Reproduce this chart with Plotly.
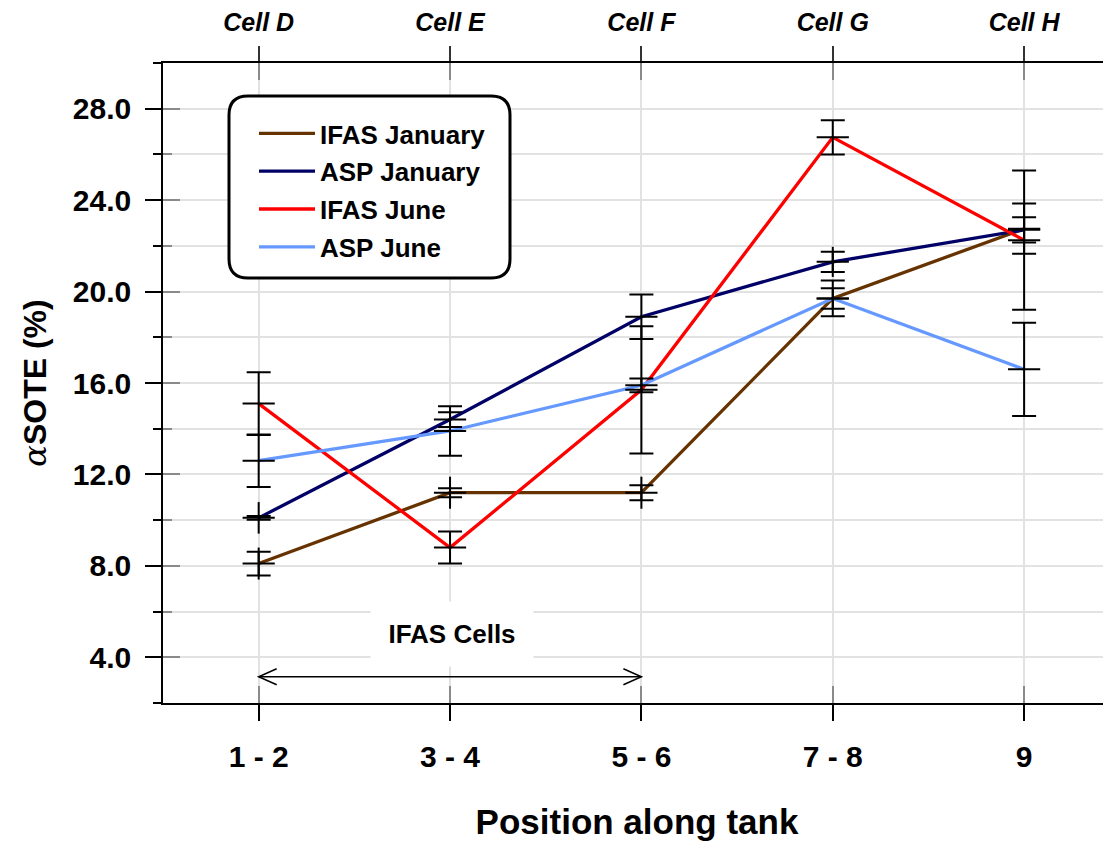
import plotly.graph_objects as go

# ---------------- data ----------------
positions = ["1 - 2", "3 - 4", "5 - 6", "7 - 8", "9"]
cells = ["Cell D", "Cell E", "Cell F", "Cell G", "Cell H"]

ifas_jan = [8.1, 11.2, 11.2, 19.7, 22.75]
ifas_jan_err = [0.52, 0.2, 0.33, 0.45, 1.1]
ifas_jan_range = [0.7, 0.7, 0.7, 0.0, 0.0]

asp_jan = [10.1, 14.4, 18.9, 21.3, 22.7]
asp_jan_err = [0.08, 0.32, 0.97, 0.44, 0.55]
asp_jan_range = [0.69, 0.0, 0.0, 0.66, 0.0]

ifas_jun = [15.1, 8.8, 15.7, 26.75, 22.25]
ifas_jun_err = [1.37, 0.7, 2.78, 0.75, 3.05]

asp_jun = [12.6, 13.9, 15.9, 19.7, 16.6]
asp_jun_err = [1.15, 1.08, 0.3, 0.78, 2.04]

series_names = ["IFAS January", "ASP January", "IFAS June", "ASP June"]
series_colors = ["#663300", "#000066", "#FF0000", "#6699FF"]

FONT = "Liberation Sans"
X_RANGE = [-0.5, 4.454]
Y_RANGE = [2, 30]

fig = go.Figure()

# lines
for name, vals, col in zip(series_names, [ifas_jan, asp_jan, ifas_jun, asp_jun], series_colors):
    fig.add_trace(go.Scatter(x=positions, y=vals, name=name, mode="lines", legendgroup=name,
                             line=dict(color=col, width=3.3), hoverinfo="skip"))

# uncapped spread bars
for vals, rng in [(ifas_jan, ifas_jan_range), (asp_jan, asp_jan_range)]:
    fig.add_trace(go.Scatter(x=positions, y=vals, mode="markers", showlegend=False,
                             marker=dict(size=1, color="rgba(0,0,0,0)"),
                             error_y=dict(type="data", array=rng, visible=True,
                                          color="black", thickness=2, width=0),
                             hoverinfo="skip"))

# capped error bars + mean ticks
for vals, err in [(ifas_jan, ifas_jan_err), (asp_jan, asp_jan_err),
                  (ifas_jun, ifas_jun_err), (asp_jun, asp_jun_err)]:
    fig.add_trace(go.Scatter(x=positions, y=vals, mode="markers", showlegend=False,
                             marker=dict(symbol="line-ew", size=23, color="black",
                                         line=dict(width=2, color="black")),
                             error_y=dict(type="data", array=err, visible=True,
                                          color="black", thickness=2, width=12),
                             hoverinfo="skip"))

# dummy traces to activate overlay axes
for xa, ya in [("x2", "y"), ("x3", "y"), ("x4", "y"), ("x", "y2")]:
    fig.add_trace(go.Scatter(x=positions, y=[None] * len(positions), xaxis=xa, yaxis=ya,
                             showlegend=False, hoverinfo="skip", mode="lines"))

GRID = "#E2E2E2"
GRAY_TICK = "#8A8A8A"

common_x = dict(type="category", categoryorder="array", categoryarray=positions,
                range=X_RANGE, fixedrange=True, automargin=False)

fig.update_layout(
    width=1111, height=846,
    paper_bgcolor="white", plot_bgcolor="white",
    margin=dict(l=155, r=8, t=55, b=151, autoexpand=False),
    font=dict(family=FONT, color="black"),
    showlegend=True,
    legend=dict(x=91 / 948, y=(601 - 8) / 640, xanchor="left", yanchor="top",
                bgcolor="rgba(0,0,0,0)", borderwidth=0, tracegroupgap=1,
                font=dict(family=FONT, size=26, weight="bold", color="black"),
                itemwidth=56),
    xaxis=dict(**common_x, showline=True, linecolor="black", linewidth=1.5,
               ticks="outside", ticklen=16, tickwidth=1.5, tickcolor="black",
               showgrid=True, gridcolor=GRID, gridwidth=1.5,
               tickfont=dict(family=FONT, size=30, weight="bold"),
               ticklabelstandoff=10,
               title=dict(text="Position along tank", standoff=38,
                          font=dict(family=FONT, size=35, weight="bold")),
               zeroline=False),
    xaxis2=dict(**common_x, overlaying="x", side="top", anchor="y",
                tickmode="array", tickvals=positions, ticktext=cells,
                showline=True, linecolor="black", linewidth=1.5,
                ticks="outside", ticklen=15, tickwidth=1.5, tickcolor="#333333",
                showgrid=False, zeroline=False,
                tickfont=dict(family=FONT, size=25, weight="bold", style="italic"),
                ticklabelstandoff=5),
    xaxis3=dict(**common_x, overlaying="x", side="bottom", anchor="y",
                ticks="inside", ticklen=17, tickwidth=1.5, tickcolor=GRAY_TICK,
                showticklabels=False, showgrid=False, showline=False, zeroline=False),
    xaxis4=dict(**common_x, overlaying="x", side="top", anchor="y",
                ticks="inside", ticklen=17, tickwidth=1.5, tickcolor=GRAY_TICK,
                showticklabels=False, showgrid=False, showline=False, zeroline=False),
    yaxis=dict(range=Y_RANGE, tickmode="array", tickvals=[4, 8, 12, 16, 20, 24, 28],
               ticktext=["4.0", "8.0", "12.0", "16.0", "20.0", "24.0", "28.0"],
               showline=True, linecolor="black", linewidth=1.5,
               ticks="outside", ticklen=16, tickwidth=1.5, tickcolor="black",
               minor=dict(tickmode="array", tickvals=[2, 6, 10, 14, 18, 22, 26, 30],
                          ticks="outside", ticklen=8, tickwidth=1.5, tickcolor="black",
                          showgrid=True, gridcolor=GRID, gridwidth=1.5),
               showgrid=True, gridcolor=GRID, gridwidth=1.5, zeroline=False,
               tickfont=dict(family=FONT, size=30, weight="bold"),
               ticklabelstandoff=8, automargin=False,
               title=dict(text="<span style=\"font-family:'DejaVu Serif';font-style:italic;font-weight:normal\">α</span>SOTE (%)",
                          standoff=17,
                          font=dict(family=FONT, size=32, weight="bold")),
               fixedrange=True),
    yaxis2=dict(range=Y_RANGE, overlaying="y", side="left", anchor="x",
                tickmode="array", tickvals=[4, 8, 12, 16, 20, 24, 28],
                ticks="inside", ticklen=17, tickwidth=1.5, tickcolor=GRAY_TICK,
                minor=dict(tickmode="array", tickvals=[2, 6, 10, 14, 18, 22, 26, 30],
                           ticks="inside", ticklen=9, tickwidth=1.5, tickcolor=GRAY_TICK),
                showticklabels=False, showgrid=False, showline=False, zeroline=False,
                fixedrange=True, automargin=False),
)

# rounded legend box (paper coords; pixel values relative to the rendered page)
def px2paper(px, py):
    return (px - 163) / 948, (703 - py) / 640

bx0, by0, bx1, by1, r = 229, 96, 510, 278, 19
def P(px, py):
    a, b = px2paper(px, py)
    return f"{a:.5f},{b:.5f}"
path = (f"M {P(bx0 + r, by0)} L {P(bx1 - r, by0)} Q {P(bx1, by0)} {P(bx1, by0 + r)} "
        f"L {P(bx1, by1 - r)} Q {P(bx1, by1)} {P(bx1 - r, by1)} "
        f"L {P(bx0 + r, by1)} Q {P(bx0, by1)} {P(bx0, by1 - r)} "
        f"L {P(bx0, by0 + r)} Q {P(bx0, by0)} {P(bx0 + r, by0)} Z")
fig.add_shape(type="path", path=path, xref="paper", yref="paper",
              line=dict(color="black", width=3), fillcolor="white", layer="above")

# IFAS Cells label + double arrow
arrow_y = 3.15
fig.add_annotation(x=positions[1], y=5.0, text="IFAS Cells", showarrow=False,
                   font=dict(family=FONT, size=26, weight="bold"),
                   bgcolor="white", width=160, height=62, xshift=2)
fig.add_shape(type="line", x0=positions[0], x1=positions[2], y0=arrow_y, y1=arrow_y,
              xref="x", yref="y", line=dict(color="black", width=1.5), layer="above")
fig.add_shape(type="path", xref="x", yref="y", xsizemode="pixel", ysizemode="pixel",
              xanchor=positions[0], yanchor=arrow_y, path="M 18,8 L 0,0 L 18,-8",
              line=dict(color="black", width=1.5), layer="above")
fig.add_shape(type="path", xref="x", yref="y", xsizemode="pixel", ysizemode="pixel",
              xanchor=positions[2], yanchor=arrow_y, path="M -18,8 L 0,0 L -18,-8",
              line=dict(color="black", width=1.5), layer="above")

fig.write_html("out.html")
